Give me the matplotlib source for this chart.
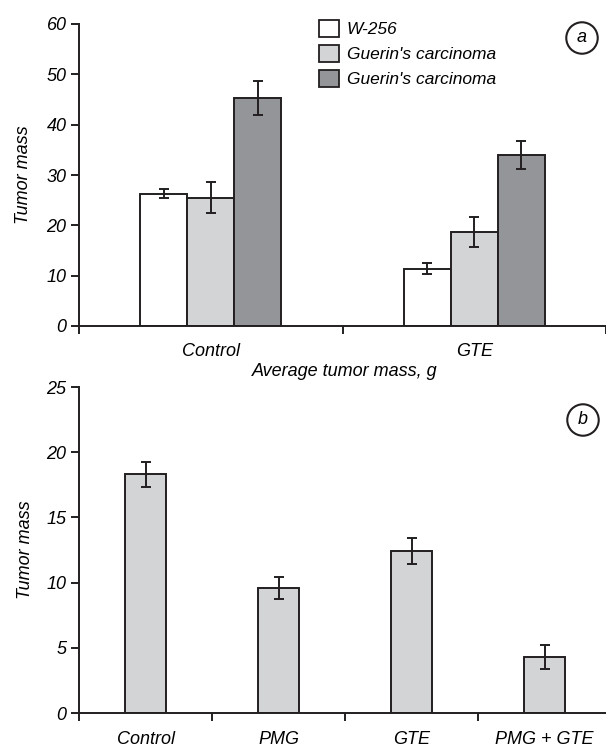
import matplotlib
matplotlib.use("Agg")
import matplotlib.pyplot as plt
import numpy as np
from matplotlib.patches import Patch

plt.rcParams['font.family'] = ['Liberation Sans', 'DejaVu Sans']
plt.rcParams['font.style'] = 'italic'

# Panel a data
groups_a = ["Control", "GTE"]
series_a = ["W-256", "Guerin's carcinoma", "Guerin's carcinoma"]
values_a = [[26.3, 11.4], [25.5, 18.6], [45.3, 34.0]]
errors_a = [[0.9, 1.1], [3.1, 3.0], [3.3, 2.8]]
colors_a = ["#ffffff", "#d3d4d6", "#939598"]

# Panel b data
groups_b = ["Control", "PMG", "GTE", "PMG + GTE"]
values_b = [18.3, 9.6, 12.4, 4.3]
errors_b = [0.95, 0.85, 1.0, 0.95]

edge = "#231f20"
fs = 13
fig = plt.figure(figsize=(6.06, 7.48), dpi=100)

# ---------- panel a ----------
ax1 = fig.add_axes([79/606, 1-326/748, 1-79/606, 302/748])
bw = 0.178
centers = np.arange(len(groups_a)) + 0.5
for i, (vals, errs, col) in enumerate(zip(values_a, errors_a, colors_a)):
    ax1.bar(centers + (i-1)*bw, vals, bw, color=col, edgecolor=edge, linewidth=1.4,
            yerr=errs, error_kw=dict(ecolor=edge, elinewidth=1.4, capsize=3.5, capthick=1.4),
            label=series_a[i], zorder=2)
ax1.set_xlim(0, 2)
ax1.set_ylim(0, 60)
ax1.set_yticks(np.arange(0, 61, 10))
ax1.set_xticks([0, 1, 2])
ax1.set_xticklabels([])
ax1.set_xticks(centers, minor=True)
ax1.set_xticklabels(groups_a, minor=True)
ax1.tick_params(axis='x', which='minor', length=0, pad=12, labelsize=fs)
ax1.tick_params(axis='x', which='major', length=6, width=1.4, color=edge)
ax1.tick_params(axis='y', length=6, width=1.4, color=edge, labelsize=fs, pad=3)
ax1.set_ylabel("Tumor mass", fontsize=fs)
ax1.yaxis.set_label_coords(-(79-32)/527, 0.5)
for s in ['top', 'right']:
    ax1.spines[s].set_visible(False)
for s in ['left', 'bottom']:
    ax1.spines[s].set_linewidth(1.4)
    ax1.spines[s].set_color(edge)
handles = [Patch(facecolor=c, edgecolor=edge, linewidth=1.3) for c in colors_a]
fig.legend(handles, series_a, loc='upper left', bbox_to_anchor=(319/606, 1-20/748),
           frameon=False, fontsize=12.5, handlelength=1.15, handleheight=1.15,
           handletextpad=0.45, labelspacing=0.42, borderaxespad=0, borderpad=0)
fig.text(582/606, 1-38/748, "a", ha='center', va='center', fontsize=fs,
         bbox=dict(boxstyle='circle,pad=0.4', facecolor='white', edgecolor=edge, linewidth=1.5))
fig.text(345/606, 1-371/748, "Average tumor mass, g", ha='center', va='center', fontsize=fs)

# ---------- panel b ----------
ax2 = fig.add_axes([79/606, 1-713/748, 1-79/606, 326/748])
cb = np.arange(len(groups_b)) + 0.5
ax2.bar(cb, values_b, 0.31, color="#d3d4d6", edgecolor=edge, linewidth=1.4,
        yerr=errors_b, error_kw=dict(ecolor=edge, elinewidth=1.4, capsize=3.5, capthick=1.4),
        zorder=2)
ax2.set_xlim(0, 527/133)
ax2.set_ylim(0, 25)
ax2.set_yticks(np.arange(0, 26, 5))
ax2.set_xticks([0, 1, 2, 3])
ax2.set_xticklabels([])
ax2.set_xticks(cb, minor=True)
ax2.set_xticklabels(groups_b, minor=True)
ax2.tick_params(axis='x', which='minor', length=0, pad=13, labelsize=fs)
ax2.tick_params(axis='x', which='major', length=6, width=1.4, color=edge)
ax2.tick_params(axis='y', length=6, width=1.4, color=edge, labelsize=fs, pad=3)
ax2.set_ylabel("Tumor mass", fontsize=fs)
ax2.yaxis.set_label_coords(-(79-34)/527, 0.5)
for s in ['top', 'right']:
    ax2.spines[s].set_visible(False)
for s in ['left', 'bottom']:
    ax2.spines[s].set_linewidth(1.4)
    ax2.spines[s].set_color(edge)
fig.text(583/606, 1-420/748, "b", ha='center', va='center', fontsize=fs,
         bbox=dict(boxstyle='circle,pad=0.4', facecolor='white', edgecolor=edge, linewidth=1.5))

fig.savefig("out.png", dpi=100)
